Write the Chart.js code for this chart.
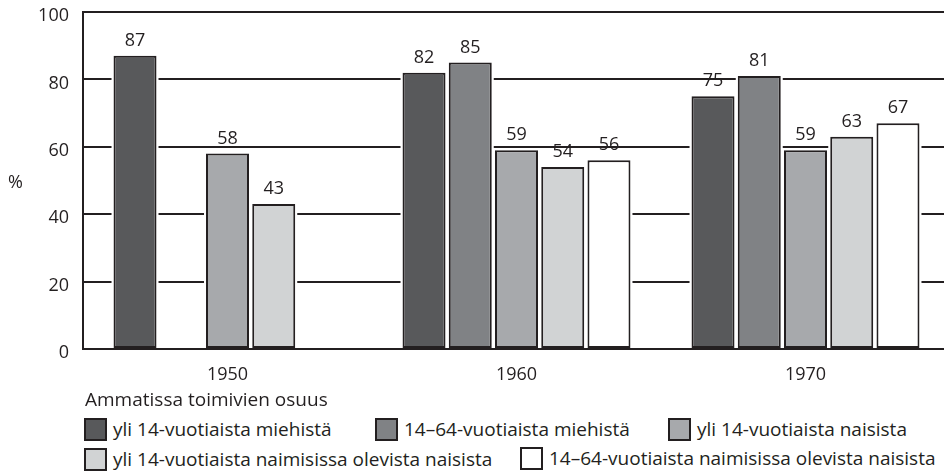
<!DOCTYPE html>
<html>
<head>
<meta charset="utf-8">
<script src="https://cdn.jsdelivr.net/npm/chart.js@4"></script>
<style>
  body { margin: 0; background: #fff; overflow: hidden; font-family: 'Open Sans', sans-serif; color: #231f20; }
  #wrap { position: relative; width: 950px; height: 475px; }
  #box { position: absolute; left: 0; top: 0; width: 950px; height: 390px; }
  .txt { position: absolute; font-size: 19px; line-height: 1; white-space: nowrap; }
  .item { position: absolute; display: flex; align-items: center; font-size: 19px; line-height: 1; white-space: nowrap; }
  .swatch { width: 19px; height: 19px; border: 2px solid #231f20; margin-right: 6px; }
</style>
</head>
<body>
<div id="wrap">
  <div id="box"><canvas id="chart"></canvas></div>
  <div class="txt" id="unit" style="left:8px; top:172px; font-size:18px;">%</div>
  <div class="txt" id="legendTitle" style="left:85px; top:390px;">Ammatissa toimivien osuus</div>
  <div id="legend"></div>
</div>
<script>
// Data
const years = ['1950', '1960', '1970'];
const seriesLabels = [
    'yli 14-vuotiaista miehistä',
    '14–64-vuotiaista miehistä',
    'yli 14-vuotiaista naisista',
    'yli 14-vuotiaista naimisissa olevista naisista',
    '14–64-vuotiaista naimisissa olevista naisista'
];
const menOver14 = [87, 82, 75];
const men14to64 = [null, 85, 81];
const womenOver14 = [58, 59, 59];
const marriedWomenOver14 = [43, 54, 63];
const marriedWomen14to64 = [null, 56, 67];
const yTicks = [0, 20, 40, 60, 80, 100];

const seriesValues = [menOver14, men14to64, womenOver14, marriedWomenOver14, marriedWomen14to64];
const seriesColors = ['#58595b', '#808285', '#a7a9ac', '#d1d3d4', '#ffffff'];
const ink = '#231f20';

// legend placement: [left, top] of each item
const legendPos = [[84, 418], [375, 418], [668, 418], [84, 448], [520, 447]];

const legend = document.getElementById('legend');
seriesLabels.forEach(function(label, i) {
    const item = document.createElement('div');
    item.className = 'item';
    item.style.left = legendPos[i][0] + 'px';
    item.style.top = legendPos[i][1] + 'px';
    const sw = document.createElement('span');
    sw.className = 'swatch';
    sw.style.background = seriesColors[i];
    const t = document.createElement('span');
    t.textContent = label;
    item.appendChild(sw);
    item.appendChild(t);
    legend.appendChild(item);
});

// white gap around each bar, so grid lines stop short of it
const barHalo = {
    id: 'barHalo',
    beforeDatasetsDraw(chart) {
        const ctx = chart.ctx;
        ctx.save();
        ctx.fillStyle = '#ffffff';
        chart.data.datasets.forEach(function(ds, i) {
            chart.getDatasetMeta(i).data.forEach(function(bar, j) {
                if (ds.data[j] === null) return;
                const p = bar.getProps(['x', 'y', 'base', 'width'], true);
                ctx.fillRect(p.x - p.width / 2 - 2, p.y - 2, p.width + 4, p.base - p.y + 1);
            });
        });
        ctx.restore();
    }
};

const valueLabels = {
    id: 'valueLabels',
    afterDatasetsDraw(chart) {
        const ctx = chart.ctx;
        ctx.save();
        ctx.font = '18px "Open Sans"';
        ctx.fillStyle = ink;
        ctx.textAlign = 'center';
        ctx.textBaseline = 'alphabetic';
        chart.data.datasets.forEach(function(ds, i) {
            chart.getDatasetMeta(i).data.forEach(function(bar, j) {
                if (ds.data[j] === null) return;
                ctx.fillText(ds.data[j], bar.x, bar.y - 10);
            });
        });
        ctx.restore();
    }
};

new Chart(document.getElementById('chart'), {
    type: 'bar',
    data: {
        labels: years,
        datasets: seriesLabels.map(function(label, i) {
            return {
                label: label,
                data: seriesValues[i],
                backgroundColor: seriesColors[i],
                borderColor: ink,
                borderWidth: 2,
                borderSkipped: false,
                categoryPercentage: 0.8,
                barPercentage: 0.93
            };
        })
    },
    options: {
        responsive: true,
        maintainAspectRatio: false,
        animation: false,
        layout: { padding: { top: 12, right: 0, bottom: 0, left: 0 } },
        plugins: {
            legend: { display: false },
            tooltip: { enabled: false }
        },
        scales: {
            x: {
                grid: { display: false },
                border: { display: true, color: ink, width: 2 },
                ticks: { color: ink, font: { family: 'Open Sans', size: 18 }, padding: 7 },
                afterFit: function(axis) { axis.height = 41; }
            },
            y: {
                min: 0,
                max: 100,
                afterBuildTicks: function(axis) { axis.ticks = yTicks.map(v => ({ value: v })); },
                grid: { color: ink, lineWidth: 2, drawTicks: false },
                border: { display: true, color: ink, width: 2 },
                ticks: { color: ink, font: { family: 'Open Sans', size: 18 }, padding: 14, labelOffset: 4 },
                afterFit: function(axis) {
                    axis.width = 83;
                    axis.paddingTop = 0;
                    axis.paddingBottom = 0;
                }
            }
        }
    },
    plugins: [barHalo, valueLabels]
});
</script>
</body>
</html>
